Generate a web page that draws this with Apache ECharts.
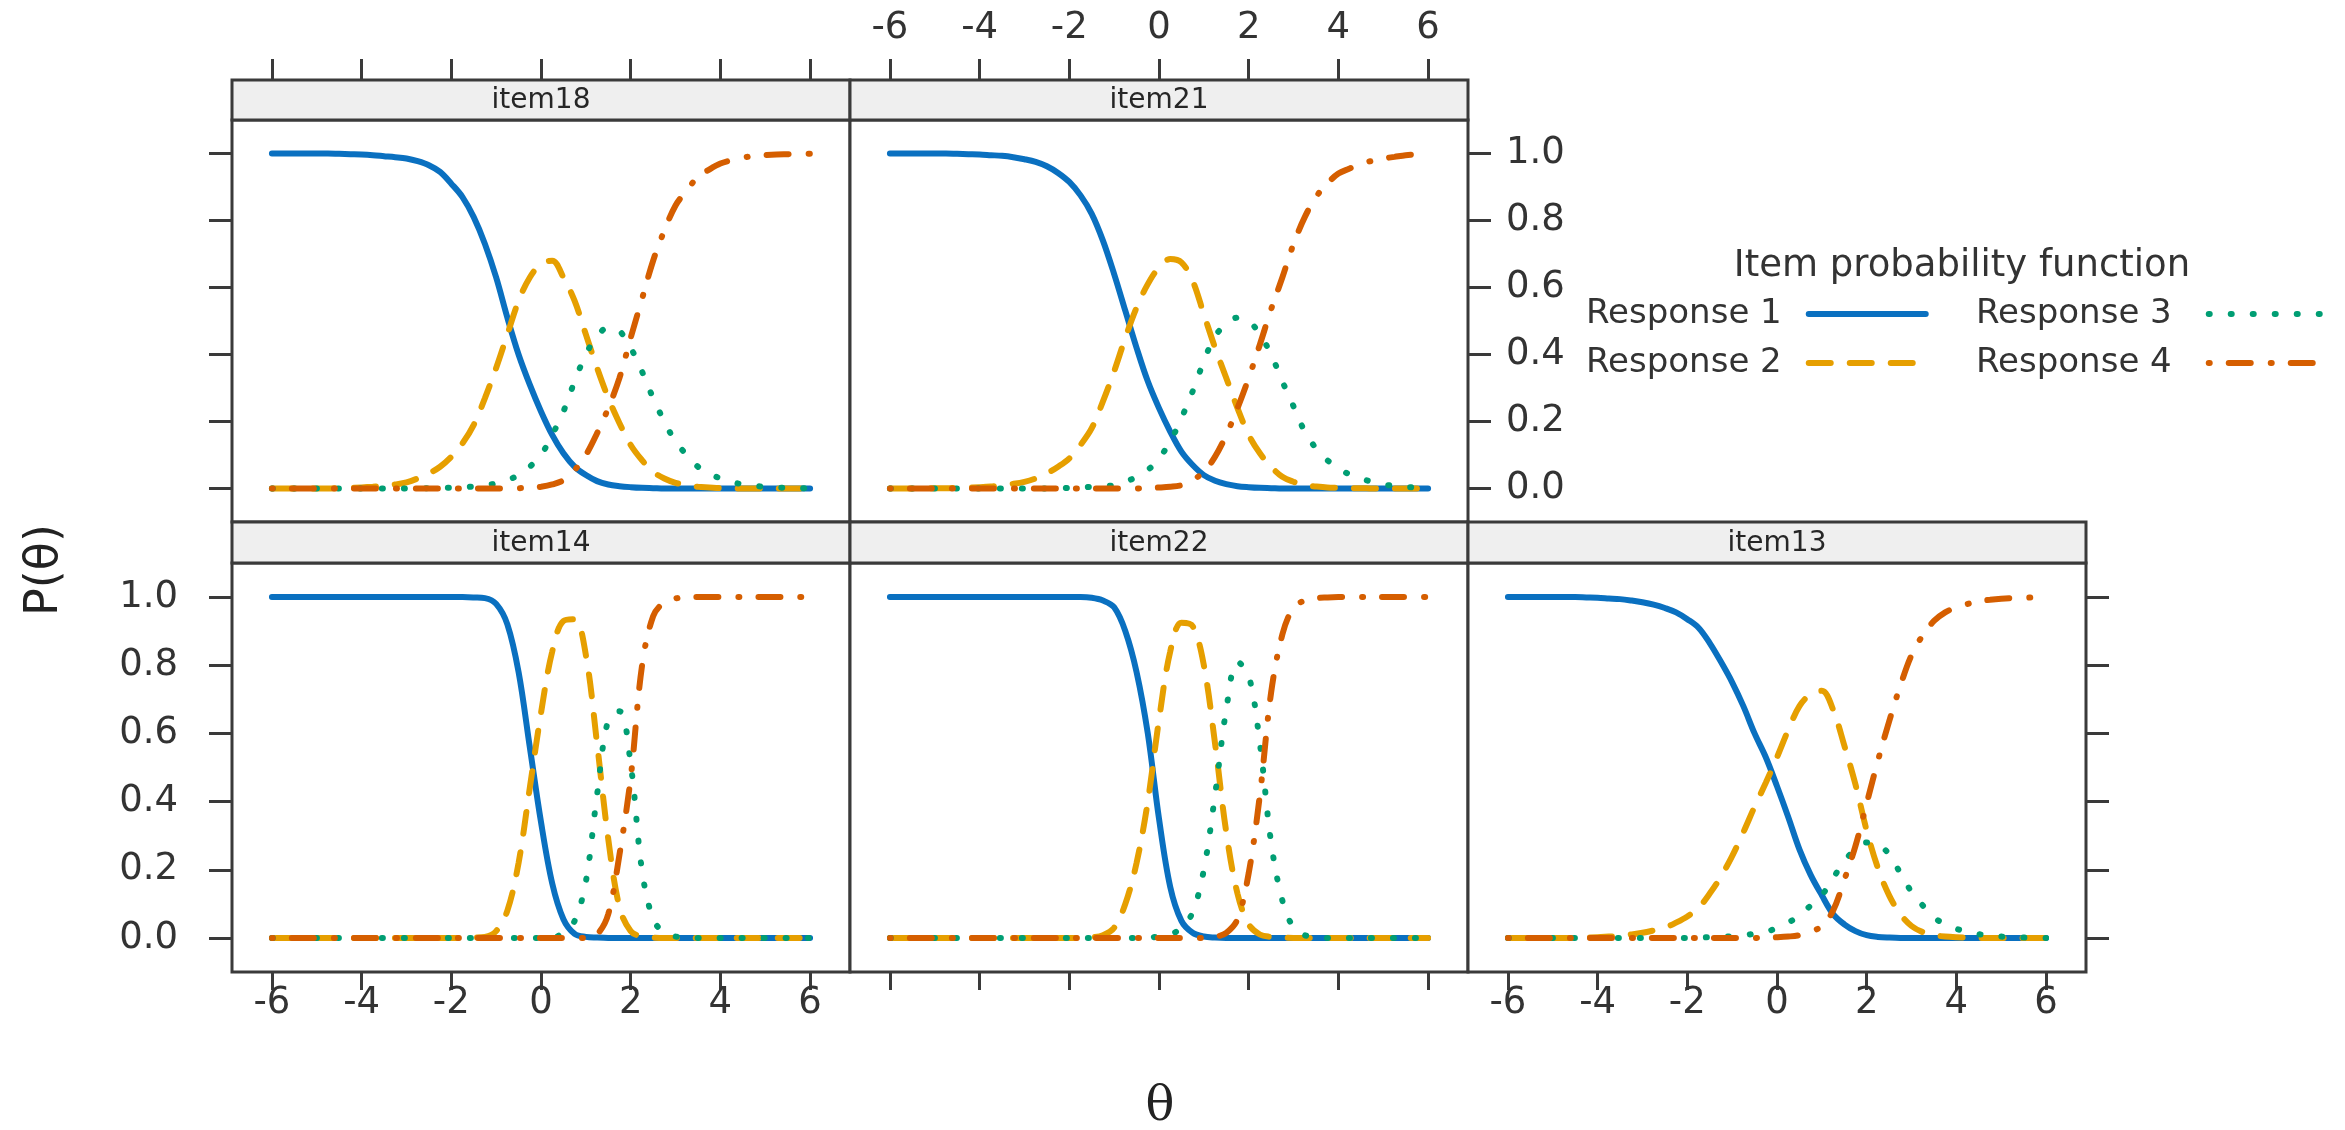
<!DOCTYPE html>
<html lang="en">
<head>
<meta charset="UTF-8">
<title>Item probability function</title>
<script src="https://cdn.jsdelivr.net/npm/echarts@6/dist/echarts.min.js"></script>
<style>
  html, body { margin: 0; padding: 0; background: #ffffff; }
  #chart { width: 2345px; height: 1130px; }
</style>
</head>
<body>
<div id="chart"></div>
<script>
// theta grid the curves were read on
var theta = [
  -6, -5.75, -5.5, -5.25, -5, -4.75, -4.5, -4.25, -4, -3.75, -3.5, -3.25,
  -3, -2.75, -2.5, -2.25, -2, -1.75, -1.5, -1.25, -1, -0.75, -0.5, -0.25,
  0, 0.25, 0.5, 0.75, 1, 1.25, 1.5, 1.75, 2, 2.25, 2.5, 2.75,
  3, 3.25, 3.5, 3.75, 4, 4.25, 4.5, 4.75, 5, 5.25, 5.5, 5.75, 6
];

var xTicks = [-6, -4, -2, 0, 2, 4, 6];
var yTicks = [0, 0.2, 0.4, 0.6, 0.8, 1];
var responseNames = ['Response 1', 'Response 2', 'Response 3', 'Response 4'];

// item18
var item18_r1 = [1,1,1,1, 1,1,0.999,0.998, 0.997,0.995,0.992,0.989, 0.985,0.977,0.965,0.945,
  0.91,0.87,0.81,0.73, 0.63,0.51,0.40,0.31, 0.23,0.16,0.105,0.065, 0.04,0.022,0.012,0.007,
  0.004,0.002,0.001,0, 0,0,0,0, 0,0,0,0, 0,0,0,0, 0];
var item18_r2 = [0,0,0,0, 0,0,0.001,0.002, 0.003,0.005,0.008,0.012, 0.018,0.03,0.045,0.065,
  0.095,0.135,0.19,0.27, 0.36,0.46,0.56,0.63, 0.67,0.68,0.63,0.56, 0.46,0.36,0.27,0.195,
  0.13,0.085,0.05,0.03, 0.017,0.01,0.005,0.003, 0.001,0,0,0, 0,0,0,0, 0];
var item18_r3 = [0,0,0,0, 0,0,0,0, 0,0,0,0, 0,0.001,0.001,0.002,
  0.002,0.004,0.006,0.01, 0.015,0.025,0.04,0.065, 0.10,0.16,0.23,0.32, 0.40,0.455,0.48,0.47,
  0.42,0.35,0.27,0.20, 0.14,0.10,0.065,0.045, 0.03,0.02,0.012,0.008, 0.005,0.003,0.002,0.001, 0.001];
var item18_r4 = [0,0,0,0, 0,0,0,0, 0,0,0,0, 0,0,0,0,
  0,0,0,0, 0,0,0.001,0.002, 0.005,0.012,0.025,0.055, 0.10,0.165,0.24,0.33,
  0.45,0.565,0.68,0.77, 0.845,0.89,0.93,0.952, 0.97,0.98,0.988,0.992, 0.995,0.997,0.998,0.999, 0.999];

// item21
var item21_r1 = [1,1,1,1, 1,1,0.999,0.998, 0.997,0.995,0.993,0.989, 0.983,0.975,0.962,0.942,
  0.915,0.875,0.82,0.74, 0.64,0.53,0.42,0.32, 0.24,0.17,0.11,0.07, 0.04,0.023,0.013,0.007,
  0.004,0.002,0.001,0, 0,0,0,0, 0,0,0,0, 0,0,0,0, 0];
var item21_r2 = [0,0,0,0.001, 0.001,0.001,0.002,0.003, 0.004,0.006,0.01,0.014, 0.02,0.03,0.045,0.065,
  0.09,0.13,0.18,0.26, 0.35,0.45,0.54,0.61, 0.66,0.685,0.675,0.62, 0.52,0.42,0.33,0.24,
  0.16,0.105,0.065,0.035, 0.02,0.01,0.006,0.003, 0.002,0.001,0.001,0, 0,0,0,0, 0];
var item21_r3 = [0,0,0,0, 0,0,0,0, 0,0,0,0, 0,0,0,0,
  0.002,0.003,0.005,0.007, 0.01,0.02,0.035,0.055, 0.09,0.14,0.21,0.29, 0.38,0.455,0.49,0.51,
  0.50,0.46,0.40,0.32, 0.245,0.17,0.12,0.085, 0.06,0.042,0.03,0.02, 0.012,0.008,0.005,0.003, 0.002];
var item21_r4 = [0,0,0,0, 0,0,0,0, 0,0,0,0, 0,0,0,0,
  0,0,0,0, 0,0,0,0.002, 0.003,0.005,0.01,0.025, 0.05,0.095,0.16,0.24,
  0.33,0.43,0.535,0.63, 0.73,0.81,0.87,0.91, 0.94,0.955,0.97,0.978, 0.985,0.99,0.995,0.997, 0.998];

// item14
var item14_r1 = [1,1,1,1, 1,1,1,1, 1,1,1,1, 1,1,1,1,
  1,1,0.999,0.997, 0.98,0.92,0.78,0.56, 0.34,0.16,0.055,0.012, 0.003,0.001,0,0,
  0,0,0,0, 0,0,0,0, 0,0,0,0, 0,0,0,0, 0];
var item14_r2 = [0,0,0,0, 0,0,0,0, 0,0,0,0, 0,0,0,0,
  0,0,0.001,0.003, 0.02,0.08,0.22,0.44, 0.66,0.84,0.93,0.935, 0.83,0.57,0.29,0.09,
  0.02,0.004,0.001,0, 0,0,0,0, 0,0,0,0, 0,0,0,0, 0];
var item14_r3 = [0,0,0,0, 0,0,0,0, 0,0,0,0, 0,0,0,0,
  0,0,0,0, 0,0,0,0, 0,0.001,0.015,0.05, 0.165,0.42,0.64,0.665,
  0.51,0.20,0.055,0.015, 0.004,0.001,0,0, 0,0,0,0, 0,0,0,0, 0];
var item14_r4 = [0,0,0,0, 0,0,0,0, 0,0,0,0, 0,0,0,0,
  0,0,0,0, 0,0,0,0, 0,0,0,0, 0,0.01,0.07,0.245,
  0.47,0.796,0.944,0.985, 0.996,0.999,1,1, 1,1,1,1, 1,1,1,1, 1];

// item22
var item22_r1 = [1,1,1,1, 1,1,1,1, 1,1,1,1, 1,1,1,1,
  1,1,0.998,0.99, 0.97,0.90,0.78,0.60, 0.35,0.15,0.05,0.015, 0.004,0.001,0,0,
  0,0,0,0, 0,0,0,0, 0,0,0,0, 0,0,0,0, 0];
var item22_r2 = [0,0,0,0, 0,0,0,0, 0,0,0,0, 0,0,0,0,
  0,0,0.002,0.008, 0.03,0.10,0.22,0.40, 0.64,0.84,0.925,0.915, 0.80,0.57,0.31,0.13,
  0.04,0.01,0.003,0.001, 0,0,0,0, 0,0,0,0, 0,0,0,0, 0];
var item22_r3 = [0,0,0,0, 0,0,0,0, 0,0,0,0, 0,0,0,0,
  0,0,0,0, 0,0,0,0, 0.005,0.01,0.03,0.075, 0.20,0.42,0.67,0.81,
  0.77,0.57,0.28,0.11, 0.03,0.008,0.002,0, 0,0,0,0, 0,0,0,0, 0];
var item22_r4 = [0,0,0,0, 0,0,0,0, 0,0,0,0, 0,0,0,0,
  0,0,0,0, 0,0,0,0, 0,0,0,0, 0,0.003,0.015,0.055,
  0.19,0.42,0.72,0.89, 0.97,0.99,0.997,0.999, 1,1,1,1, 1,1,1,1, 1];

// item13
var item13_r1 = [1,1,1,1, 1,1,1,0.999, 0.998,0.996,0.994,0.99, 0.985,0.978,0.968,0.955,
  0.935,0.91,0.865,0.81, 0.75,0.68,0.60,0.53, 0.445,0.355,0.26,0.185, 0.125,0.07,0.04,0.02,
  0.008,0.003,0.001,0, 0,0,0,0, 0,0,0,0, 0,0,0,0, 0];
var item13_r2 = [0,0,0,0, 0,0,0,0.001, 0.002,0.004,0.006,0.01, 0.015,0.022,0.03,0.045,
  0.063,0.088,0.13,0.18, 0.24,0.31,0.385,0.455, 0.53,0.61,0.68,0.715, 0.725,0.67,0.565,0.45,
  0.315,0.205,0.125,0.07, 0.035,0.017,0.008,0.004, 0.002,0.001,0,0, 0,0,0,0, 0];
var item13_r3 = [0,0,0,0, 0,0,0,0, 0,0,0,0, 0,0,0,0,
  0,0.001,0.002,0.003, 0.005,0.008,0.012,0.017, 0.03,0.045,0.065,0.095, 0.125,0.175,0.225,0.26,
  0.28,0.275,0.245,0.19, 0.135,0.095,0.06,0.04, 0.027,0.018,0.011,0.007, 0.004,0.002,0.001,0, 0];
var item13_r4 = [0,0,0,0, 0,0,0,0, 0,0,0,0, 0,0,0,0,
  0,0,0,0, 0,0,0,0.001, 0.002,0.004,0.008,0.018, 0.035,0.08,0.17,0.27,
  0.395,0.52,0.635,0.74, 0.83,0.888,0.93,0.955, 0.97,0.98,0.988,0.992, 0.995,0.997,0.998,0.999, 0.999];

var FONT = 'DejaVu Sans';
var INK = '#3a3a3a';
var TEXT = '#333333';

// panel boxes (lattice layout: 2 on top, 3 below)
var grids = [
  { left: 232,  top: 120, width: 618, height: 402 },
  { left: 850,  top: 120, width: 618, height: 402 },
  { left: 232,  top: 563, width: 618, height: 409 },
  { left: 850,  top: 563, width: 618, height: 409 },
  { left: 1468, top: 563, width: 618, height: 409 }
];
grids.forEach(function (g) {
  g.show = true;
  g.borderColor = INK;
  g.borderWidth = 3;
  g.backgroundColor = '#ffffff';
});

function xAxis(gridIndex, position, ticks, labels, offset) {
  var top = position === 'top';
  return {
    type: 'value', gridIndex: gridIndex, position: position, offset: offset || 0,
    min: -6.89, max: 6.89,
    axisLine: { show: false, onZero: false },
    splitLine: { show: false },
    axisTick: { show: ticks, length: top ? 21 : 18, customValues: xTicks,
      lineStyle: { color: INK, width: 3 } },
    axisLabel: { show: labels, customValues: xTicks, margin: top ? 33 : 13,
      fontSize: 37, fontFamily: FONT, color: TEXT }
  };
}

function yAxis(gridIndex, position, ticks, labels) {
  return {
    type: 'value', gridIndex: gridIndex, position: position,
    min: -0.1, max: 1.1,
    axisLine: { show: false, onZero: false },
    splitLine: { show: false },
    axisTick: { show: ticks, length: 23, customValues: yTicks,
      lineStyle: { color: INK, width: 3 } },
    axisLabel: { show: labels, customValues: yTicks, margin: position === 'right' ? 38 : 54,
      fontSize: 37, fontFamily: FONT, color: TEXT,
      formatter: function (v) { return v.toFixed(1); } }
  };
}

var xAxes = [
  xAxis(0, 'bottom', false, false),   // 0 item18 data
  xAxis(0, 'top', true, false, 40),   // 1 item18 outer ticks
  xAxis(1, 'bottom', false, false),   // 2 item21 data
  xAxis(1, 'top', true, true, 40),    // 3 item21 outer ticks + labels
  xAxis(2, 'bottom', true, true),     // 4 item14
  xAxis(3, 'bottom', true, false),    // 5 item22
  xAxis(4, 'bottom', true, true)      // 6 item13
];
var yAxes = [
  yAxis(0, 'left', true, false),      // item18
  yAxis(1, 'right', true, true),      // item21
  yAxis(2, 'left', true, true),       // item14
  yAxis(3, 'left', false, false),     // item22
  yAxis(4, 'right', true, false)      // item13
];

var panels = [
  { label: 'item18', x: 0, y: 0, curves: [item18_r1, item18_r2, item18_r3, item18_r4] },
  { label: 'item21', x: 2, y: 1, curves: [item21_r1, item21_r2, item21_r3, item21_r4] },
  { label: 'item14', x: 4, y: 2, curves: [item14_r1, item14_r2, item14_r3, item14_r4] },
  { label: 'item22', x: 5, y: 3, curves: [item22_r1, item22_r2, item22_r3, item22_r4] },
  { label: 'item13', x: 6, y: 4, curves: [item13_r1, item13_r2, item13_r3, item13_r4] }
];

var lineLooks = [
  { color: '#0a70c0', type: 'solid' },
  { color: '#e69f00', type: [22, 19] },
  { color: '#009e73', type: [1, 21] },
  { color: '#d55e00', type: [1, 19, 22, 20] }
];

var series = [];
panels.forEach(function (p) {
  p.curves.forEach(function (vals, k) {
    series.push({
      name: responseNames[k],
      type: 'line',
      xAxisIndex: p.x,
      yAxisIndex: p.y,
      data: theta.map(function (t, i) { return [t, vals[i]]; }),
      symbol: 'none',
      smooth: 0.35,
      color: lineLooks[k].color,
      lineStyle: { width: 6, type: lineLooks[k].type, cap: 'round', color: lineLooks[k].color }
    });
  });
});

// strips with panel names
var graphics = [];
panels.forEach(function (p, i) {
  var g = grids[i];
  var stripTop = i < 2 ? 80 : 522;
  var stripH = i < 2 ? 40 : 41;
  graphics.push({
    type: 'rect',
    shape: { x: g.left, y: stripTop, width: g.width, height: stripH },
    style: { fill: '#efefef', stroke: INK, lineWidth: 3 }
  });
  graphics.push({
    type: 'text', x: g.left + g.width / 2, y: stripTop + stripH / 2 + 1,
    style: { text: p.label, fill: '#262626', font: '28px "' + FONT + '"',
      textAlign: 'center', textVerticalAlign: 'middle' }
  });
});
graphics.push({
  type: 'text', x: 45, y: 570, rotation: Math.PI / 2,
  style: { text: 'P(θ)', fill: '#222222', font: '46px "' + FONT + '"',
    textAlign: 'center', textVerticalAlign: 'middle' }
});
graphics.push({
  type: 'text', x: 1160, y: 1108,
  style: { text: 'θ', fill: '#222222', font: '48px "DejaVu Serif"',
    textAlign: 'center', textVerticalAlign: 'middle' }
});
graphics.push({
  type: 'text', x: 1962, y: 266,
  style: { text: 'Item probability function', fill: TEXT, font: '37px "' + FONT + '"',
    textAlign: 'center', textVerticalAlign: 'middle' }
});

function legendColumn(names, left, gap) {
  return {
    data: names, orient: 'vertical', left: left, top: 296, padding: 0,
    align: 'right', itemWidth: 117, itemHeight: 16, itemGap: 13,
    itemStyle: { opacity: 0 },
    lineStyle: { width: 6, cap: 'round' },
    selectedMode: false,
    textStyle: { fontSize: 34, fontFamily: FONT, color: TEXT, lineHeight: 36,
      padding: [0, gap, 0, 0] }
  };
}

var chart = echarts.init(document.getElementById('chart'));
chart.setOption({
  animation: false,
  backgroundColor: '#ffffff',
  grid: grids,
  xAxis: xAxes,
  yAxis: yAxes,
  legend: [
    legendColumn(['Response 1', 'Response 2'], 1586, 22),
    legendColumn(['Response 3', 'Response 4'], 1976, 32)
  ],
  graphic: graphics,
  series: series
});
</script>
</body>
</html>
